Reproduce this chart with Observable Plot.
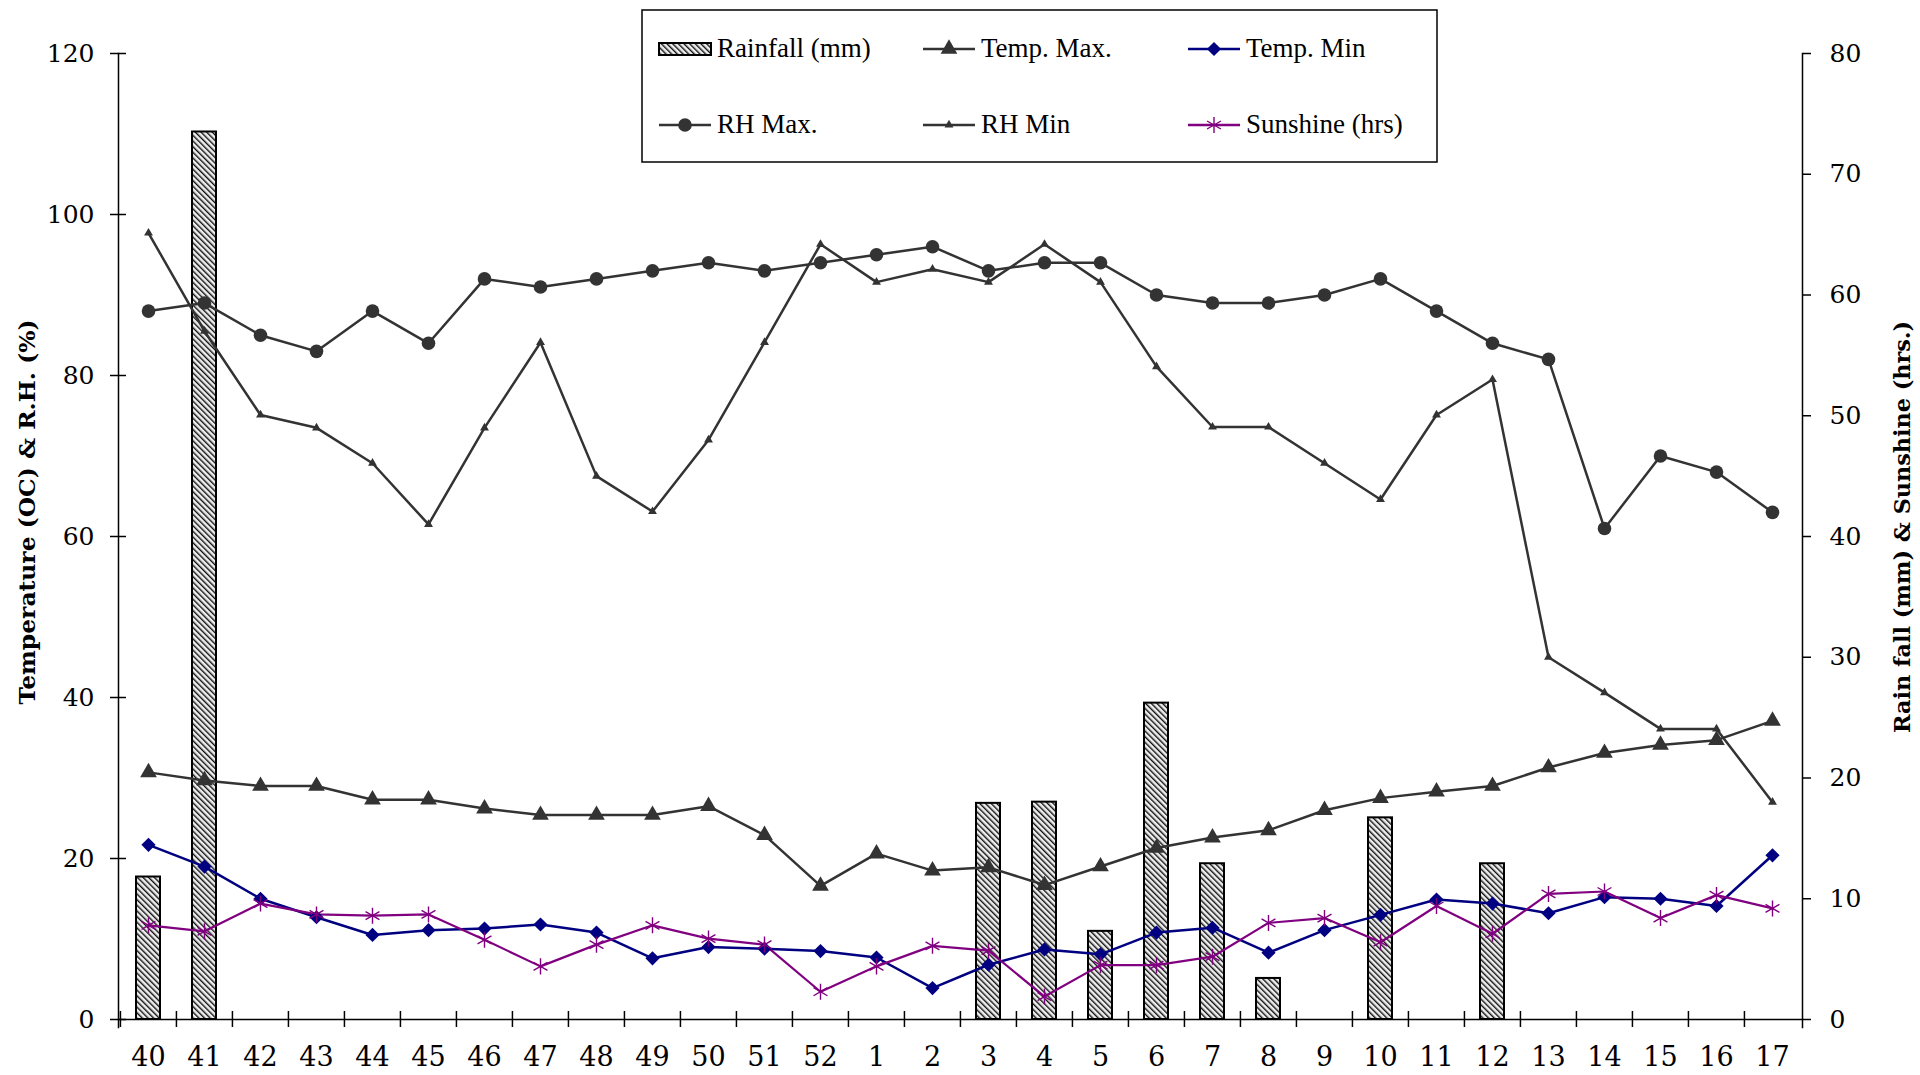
<!DOCTYPE html>
<html>
<head>
<meta charset="utf-8">
<script src="https://cdn.jsdelivr.net/npm/d3@7"></script>
<script src="https://cdn.jsdelivr.net/npm/@observablehq/plot@0.6"></script>
<style>
  html, body { margin: 0; padding: 0; background: #fff; overflow: hidden; }
  #wrap { position: relative; width: 1920px; height: 1075px; }
  #overlay { position: absolute; left: 0; top: 0; pointer-events: none; }
</style>
</head>
<body>
<div id="wrap"></div>
<script>
// Standard meteorological weeks (40th week of one year to 17th week of the next)
const weeks = ["40","41","42","43","44","45","46","47","48","49","50","51","52",
               "1","2","3","4","5","6","7","8","9","10","11","12","13","14","15","16","17"];

// Left axis series: temperature (°C) and relative humidity (%)
const tempMax = [30.7, 29.7, 29.0, 29.0, 27.3, 27.3, 26.2, 25.4, 25.4, 25.4, 26.5, 22.9, 16.6,
                 20.6, 18.5, 18.9, 16.7, 19.0, 21.3, 22.6, 23.5, 26.0, 27.5, 28.3, 29.0, 31.3, 33.1, 34.1, 34.7, 37.1];
const tempMin = [21.7, 19.0, 15.0, 12.7, 10.5, 11.1, 11.3, 11.8, 10.8, 7.6, 9.0, 8.8, 8.5,
                 7.7, 3.9, 6.8, 8.7, 8.1, 10.8, 11.4, 8.3, 11.1, 13.0, 14.9, 14.4, 13.2, 15.2, 15.0, 14.1, 20.4];
const rhMax   = [88, 89, 85, 83, 88, 84, 92, 91, 92, 93, 94, 93, 94,
                 95, 96, 93, 94, 94, 90, 89, 89, 90, 92, 88, 84, 82, 61, 70, 68, 63];
const rhMin   = [97.7, 85.5, 75.1, 73.5, 69.1, 61.5, 73.5, 84.1, 67.5, 63.1, 72.0, 84.1, 96.3,
                 91.6, 93.2, 91.6, 96.3, 91.6, 81.1, 73.6, 73.6, 69.1, 64.6, 75.1, 79.5, 45.0, 40.6, 36.1, 36.1, 27.0];

// Right axis series: rainfall (mm) and sunshine (hrs)
const rainfall = [11.8, 73.5, 0, 0, 0, 0, 0, 0, 0, 0, 0, 0, 0,
                  0, 0, 17.9, 18.0, 7.3, 26.2, 12.9, 3.4, 0, 16.7, 0, 12.9, 0, 0, 0, 0, 0];
const sunshine = [7.8, 7.3, 9.6, 8.7, 8.6, 8.7, 6.6, 4.4, 6.2, 7.8, 6.7, 6.2, 2.3,
                  4.4, 6.1, 5.7, 1.9, 4.5, 4.5, 5.2, 8.0, 8.4, 6.4, 9.4, 7.1, 10.4, 10.6, 8.4, 10.3, 9.2];

// Axis ticks
const leftTicks = [0, 20, 40, 60, 80, 100, 120];
const rightTicks = [0, 10, 20, 30, 40, 50, 60, 70, 80];

const W = 1920, H = 1075;
const M = {top: 53, right: 118, bottom: 56, left: 118};
const leftMax = 120, rightMax = 80;
const k = leftMax / rightMax;   // right-axis values drawn on the left-axis scale
const bw = (W - M.left - M.right) / weeks.length;

const ink = "#333333", navy = "#000080", purple = "#800080";

const rows = weeks.map((week, i) => ({
  week, tempMax: tempMax[i], tempMin: tempMin[i], rhMax: rhMax[i], rhMin: rhMin[i],
  rain: rainfall[i], sun: sunshine[i]
}));

const sym = {
  tempMax: {symbol: d3.symbolTriangle, r: 6.2},
  tempMin: {symbol: d3.symbolDiamond2, r: 6.4},
  rhMax:   {symbol: d3.symbolCircle, r: 6.8},
  rhMin:   {symbol: d3.symbolTriangle, r: 3.3},
  sun:     {symbol: d3.symbolAsterisk, r: 7.6}
};

const chart = Plot.plot({
  width: W, height: H,
  marginTop: M.top, marginRight: M.right, marginBottom: M.bottom, marginLeft: M.left,
  style: {background: "white", color: "black", fontFamily: "DejaVu Serif"},
  x: {type: "band", domain: weeks, padding: 0, label: null},
  y: {domain: [0, leftMax], label: null},
  marks: [
    // rainfall bars (right axis)
    Plot.barY(rows.filter(d => d.rain > 0), {
      x: "week", y: d => d.rain * k,
      fill: "url(#rainHatch)", stroke: "black", strokeWidth: 2,
      insetLeft: 16, insetRight: 16
    }),
    // lines
    Plot.line(rows, {x: "week", y: "tempMax", stroke: ink, strokeWidth: 2.5}),
    Plot.line(rows, {x: "week", y: "rhMax", stroke: ink, strokeWidth: 2.5}),
    Plot.line(rows, {x: "week", y: "rhMin", stroke: ink, strokeWidth: 2.5}),
    Plot.line(rows, {x: "week", y: "tempMin", stroke: navy, strokeWidth: 2.5}),
    Plot.line(rows, {x: "week", y: d => d.sun * k, stroke: purple, strokeWidth: 2.2}),
    // markers
    Plot.dot(rows, {x: "week", y: "rhMax", symbol: sym.rhMax.symbol, r: sym.rhMax.r, fill: ink}),
    Plot.dot(rows, {x: "week", y: "rhMin", symbol: sym.rhMin.symbol, r: sym.rhMin.r, fill: ink}),
    Plot.dot(rows, {x: "week", y: "tempMax", symbol: sym.tempMax.symbol, r: sym.tempMax.r, fill: ink}),
    Plot.dot(rows, {x: "week", y: "tempMin", symbol: sym.tempMin.symbol, r: sym.tempMin.r, fill: navy}),
    Plot.dot(rows, {x: "week", y: d => d.sun * k, symbol: sym.sun.symbol, r: sym.sun.r, stroke: purple, strokeWidth: 1.4, fill: "none"}),
    // axis lines
    Plot.frame({anchor: "bottom", stroke: "black", strokeWidth: 1.5}),
    Plot.frame({anchor: "left", stroke: "black", strokeWidth: 1.5, insetBottom: -8}),
    Plot.frame({anchor: "right", stroke: "black", strokeWidth: 1.5, insetBottom: -8}),
    // x axis: labels at week centres, ticks at week boundaries crossing the axis
    Plot.axisX({tickSize: 0, tickPadding: 27, fontSize: 27, fontFamily: "DejaVu Serif", fill: "black", label: null}),
    Plot.axisX({tickSize: 8, dx: -bw / 2, fill: "none", stroke: "black", strokeWidth: 1.5, label: null}),
    Plot.axisX({tickSize: -8, dx: -bw / 2, fill: "none", stroke: "black", strokeWidth: 1.5, label: null}),
    // left axis
    Plot.axisY(leftTicks, {anchor: "left", tickSize: 8, tickPadding: 16, fontSize: 25, fontFamily: "DejaVu Serif",
      fill: "black", stroke: "black", strokeWidth: 1.5, label: null}),
    Plot.axisY(leftTicks, {anchor: "left", tickSize: -8, fill: "none", stroke: "black", strokeWidth: 1.5, label: null}),
    // right axis (rainfall & sunshine)
    Plot.axisY(rightTicks.map(v => v * k), {anchor: "right", tickSize: 8, tickPadding: 19,
      tickFormat: d => String(Math.round(d / k)), fontSize: 25, fontFamily: "DejaVu Serif",
      fill: "black", stroke: "black", strokeWidth: 1.5, label: null})
  ]
});

// hatch pattern for the rainfall bars
function addHatch(svgSel, id) {
  const p = svgSel.insert("defs", ":first-child").append("pattern")
    .attr("id", id).attr("patternUnits", "userSpaceOnUse")
    .attr("width", 4).attr("height", 4).attr("patternTransform", "rotate(-45)");
  p.append("rect").attr("width", 4).attr("height", 4).attr("fill", "#eeeeee");
  p.append("line").attr("x1", 0).attr("y1", 0).attr("x2", 0).attr("y2", 4)
    .attr("stroke", "#111111").attr("stroke-width", 2.8);
}
addHatch(d3.select(chart), "rainHatch");

const wrap = document.getElementById("wrap");
wrap.appendChild(chart);

// Legend box and axis titles
const ov = d3.select(wrap).append("svg").attr("id", "overlay")
  .attr("width", W).attr("height", H);
addHatch(ov, "rainHatchKey");

const key = ov.append("g");
key.append("rect").attr("x", 642).attr("y", 10).attr("width", 795).attr("height", 152)
  .attr("fill", "white").attr("stroke", "black").attr("stroke-width", 1.5);

const rowY = [49, 125];
const colX = [659, 923, 1188];
const swW = 52;
const entries = [
  {label: "Rainfall (mm)", col: 0, row: 0, bar: true},
  {label: "Temp. Max.", col: 1, row: 0, color: ink, s: sym.tempMax},
  {label: "Temp. Min", col: 2, row: 0, color: navy, s: sym.tempMin},
  {label: "RH Max.", col: 0, row: 1, color: ink, s: sym.rhMax},
  {label: "RH Min", col: 1, row: 1, color: ink, s: sym.rhMin},
  {label: "Sunshine (hrs)", col: 2, row: 1, color: purple, s: sym.sun, hollow: true}
];
for (const e of entries) {
  const x0 = colX[e.col], y0 = rowY[e.row];
  if (e.bar) {
    key.append("rect").attr("x", x0).attr("y", y0 - 6).attr("width", swW).attr("height", 12)
      .attr("fill", "url(#rainHatchKey)").attr("stroke", "black").attr("stroke-width", 2);
  } else {
    key.append("line").attr("x1", x0).attr("x2", x0 + swW).attr("y1", y0).attr("y2", y0)
      .attr("stroke", e.color).attr("stroke-width", 2.5);
    const path = d3.symbol(e.s.symbol, Math.PI * e.s.r * e.s.r)();
    key.append("path").attr("d", path).attr("transform", `translate(${x0 + swW / 2},${y0})`)
      .attr("fill", e.hollow ? "none" : e.color).attr("stroke", e.hollow ? e.color : "none")
      .attr("stroke-width", 1.4);
  }
  key.append("text").attr("x", x0 + swW + 6).attr("y", y0 + 8)
    .attr("font-family", "Liberation Serif").attr("font-size", 27).attr("fill", "black")
    .text(e.label);
}

ov.append("text")
  .attr("transform", "translate(27,512) rotate(-90)")
  .attr("text-anchor", "middle").attr("dominant-baseline", "central")
  .attr("font-family", "DejaVu Serif").attr("font-weight", "bold").attr("font-size", 22)
  .attr("textLength", 385).attr("lengthAdjust", "spacingAndGlyphs")
  .text("Temperature (OC) & R.H. (%)");

ov.append("text")
  .attr("transform", "translate(1902,527) rotate(-90)")
  .attr("text-anchor", "middle").attr("dominant-baseline", "central")
  .attr("font-family", "DejaVu Serif").attr("font-weight", "bold").attr("font-size", 22)
  .attr("textLength", 412).attr("lengthAdjust", "spacingAndGlyphs")
  .text("Rain fall (mm) & Sunshine (hrs.)");
</script>
</body>
</html>
